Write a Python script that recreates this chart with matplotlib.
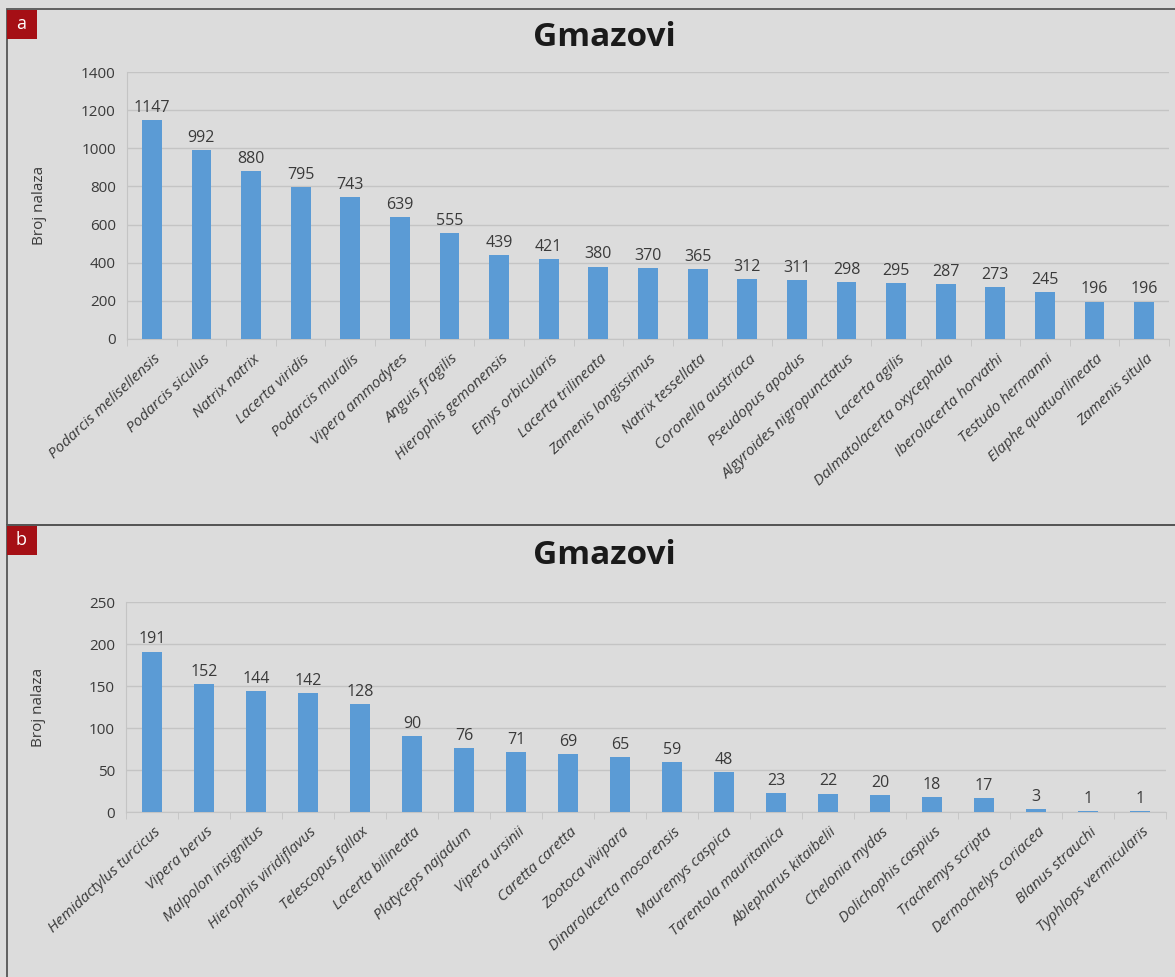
import numpy as np
import matplotlib.pyplot as plt
from matplotlib.patches import Rectangle

# --- Data ---
SPECIES_A = [
    "Podarcis melisellensis", "Podarcis siculus", "Natrix natrix", "Lacerta viridis",
    "Podarcis muralis", "Vipera ammodytes", "Anguis fragilis", "Hierophis gemonensis",
    "Emys orbicularis", "Lacerta trilineata", "Zamenis longissimus", "Natrix tessellata",
    "Coronella austriaca", "Pseudopus apodus", "Algyroides nigropunctatus", "Lacerta agilis",
    "Dalmatolacerta oxycephala", "Iberolacerta horvathi", "Testudo hermanni",
    "Elaphe quatuorlineata", "Zamenis situla",
]
COUNTS_A = [1147, 992, 880, 795, 743, 639, 555, 439, 421, 380, 370, 365,
            312, 311, 298, 295, 287, 273, 245, 196, 196]

SPECIES_B = [
    "Hemidactylus turcicus", "Vipera berus", "Malpolon insignitus", "Hierophis viridiflavus",
    "Telescopus fallax", "Lacerta bilineata", "Platyceps najadum", "Vipera ursinii",
    "Caretta caretta", "Zootoca vivipara", "Dinarolacerta mosorensis", "Mauremys caspica",
    "Tarentola mauritanica", "Ablepharus kitaibelii", "Chelonia mydas", "Dolichophis caspius",
    "Trachemys scripta", "Dermochelys coriacea", "Blanus strauchi", "Typhlops vermicularis",
]
COUNTS_B = [191, 152, 144, 142, 128, 90, 76, 71, 69, 65, 59, 48,
            23, 22, 20, 18, 17, 3, 1, 1]

TITLE = "Gmazovi"
YLABEL = "Broj nalaza"

BG = "#dcdcdc"
BAR = "#5b9bd5"
GRID = "#c4c4c4"
TEXT = "#3a3a3a"

plt.rcParams["font.family"] = ["Open Sans", "DejaVu Sans"]

W, H = 1175, 977
fig = plt.figure(figsize=(W / 100, H / 100), dpi=100)
fig.patch.set_facecolor(BG)


def fx(px):
    return px / W


def fy(py):
    return 1 - py / H


def draw_panel(ax, names, counts, ymax, ystep):
    n = len(names)
    ax.set_facecolor(BG)
    x = np.arange(n)
    ax.bar(x, counts, width=0.4, color=BAR, zorder=3)
    for xi, v in zip(x, counts):
        ax.annotate(str(v), (xi, v), xytext=(0, 3), textcoords="offset points",
                    ha="center", va="bottom", fontsize=11.5, color=TEXT)
    ax.set_xlim(-0.5, n - 0.5)
    ax.set_ylim(0, ymax)
    ax.set_yticks(np.arange(0, ymax + 1, ystep))
    ax.yaxis.grid(True, color=GRID, linewidth=1, zorder=0)
    ax.tick_params(axis="y", length=0, labelsize=11, labelcolor=TEXT, pad=8)
    ax.set_xticks(x + 0.03)
    ax.set_xticklabels(names, rotation=43, ha="right", rotation_mode="anchor",
                       fontsize=11, style="italic", color=TEXT)
    ax.set_xticks(np.arange(-0.5, n, 1), minor=True)
    ax.tick_params(axis="x", which="major", length=0, pad=9)
    ax.tick_params(axis="x", which="minor", length=5, color=GRID)
    for s in ("top", "right"):
        ax.spines[s].set_visible(False)
    ax.spines["left"].set_color(GRID)
    ax.spines["bottom"].set_color(GRID)
    ax.set_ylabel(YLABEL, fontsize=11, color=TEXT)
    ax.yaxis.set_label_coords(-0.077, 0.5)


# panel a
ax_a = fig.add_axes([fx(127), fy(339), fx(1169 - 127), (339 - 72) / H])
draw_panel(ax_a, SPECIES_A, COUNTS_A, 1400, 200)

# panel b
ax_b = fig.add_axes([fx(126), fy(812), fx(1166 - 126), (812 - 602) / H])
draw_panel(ax_b, SPECIES_B, COUNTS_B, 250, 50)

# titles
fig.text(fx(604), fy(37), TITLE, ha="center", va="center", fontsize=24,
         fontweight="bold", color="#1a1a1a")
fig.text(fx(604), fy(555), TITLE, ha="center", va="center", fontsize=24,
         fontweight="bold", color="#1a1a1a")

# panel frames and letter boxes
for top, bot, letter in ((9, 525, "a"), (525, 985, "b")):
    fig.patches.append(Rectangle((fx(7), fy(bot)), fx(1200), (bot - top) / H,
                                 transform=fig.transFigure, fill=False,
                                 edgecolor="#555555", linewidth=1.3))
    fig.patches.append(Rectangle((fx(7), fy(top + 30)), fx(30), 29 / H,
                                 transform=fig.transFigure, facecolor="#a50f15",
                                 edgecolor="none"))
    fig.text(fx(21), fy(top + 15), letter, ha="center", va="center",
             fontsize=13, color="white")

fig.savefig("out.png", dpi=100, facecolor=BG)
